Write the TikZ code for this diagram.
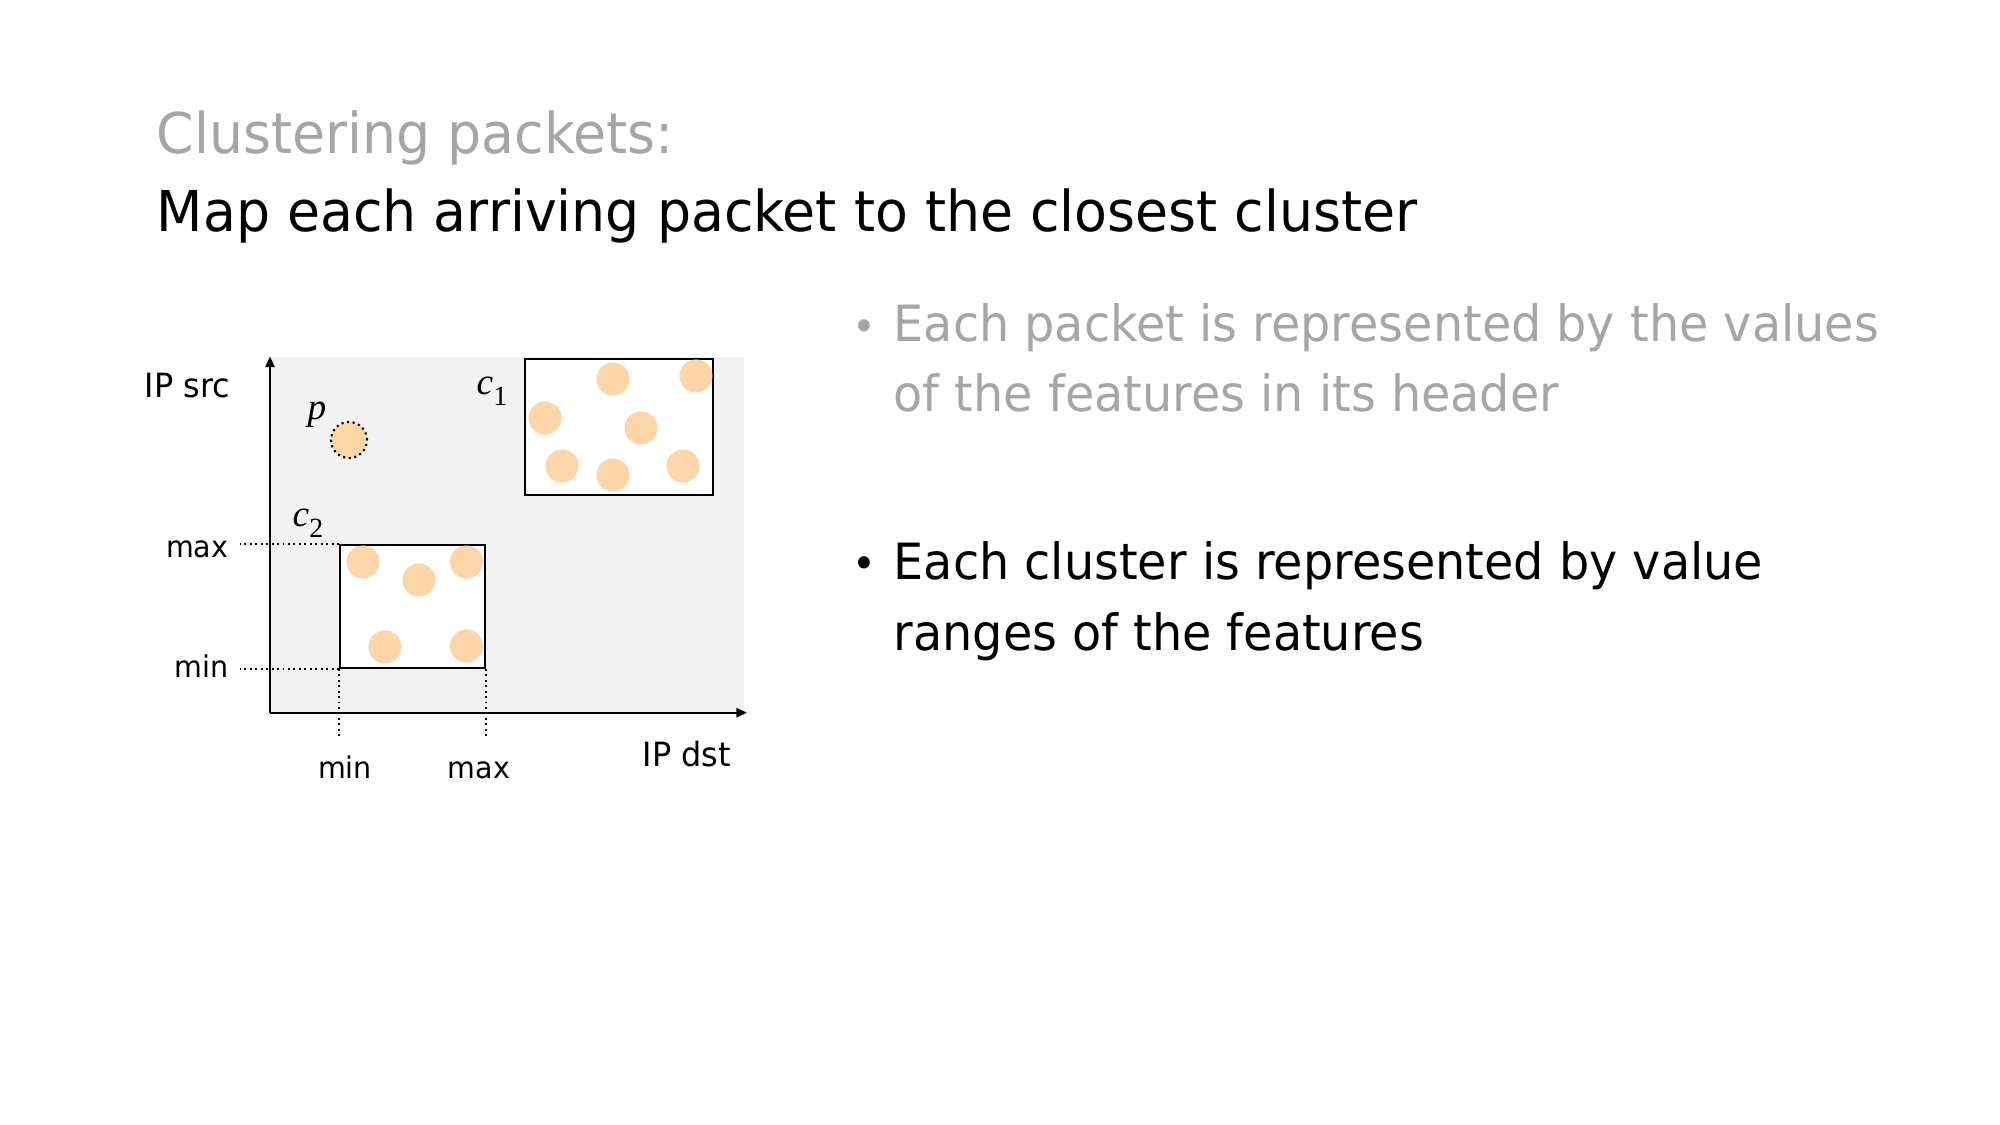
\documentclass[tikz,border=0pt]{standalone}
\usepackage{fontspec}
\setmainfont[FakeStretch=0.955]{DejaVu Sans}
\newfontfamily\lblserif{Liberation Serif}
\usetikzlibrary{arrows.meta}
\definecolor{slidegray}{HTML}{A6A6A6}
\definecolor{planegray}{HTML}{F2F2F2}
\definecolor{peach}{HTML}{FCD5A8}
\newcommand\clab[1]{{\itshape c}\raisebox{-3pt}{\fontsize{7.9}{8}\selectfont #1}}
\tikzset{
  pkt/.style={circle,fill=peach,inner sep=0pt,minimum size=0.33cm},
  clusterbox/.style={draw,line width=0.6pt,fill=white,inner sep=0pt},
  guide/.style={densely dotted,line width=0.55pt},
  axis/.style={line width=0.6pt,-{Triangle[length=3pt,width=2.6pt]}},
  ticklabel/.style={font=\fontsize{8.5}{10}\selectfont,inner sep=0pt},
  axislabel/.style={font=\fontsize{9.5}{11}\selectfont,inner sep=0pt},
  mathlbl/.style={font=\lblserif\fontsize{10.6}{12}\selectfont,inner sep=0pt},
  titleline/.style={font=\fontsize{16}{19}\selectfont,anchor=base west,inner sep=0pt},
  pointtext/.style={font=\fontsize{14.2}{20.1}\selectfont,anchor=base west,inner sep=0pt,align=left},
  pointdot/.style={font=\fontsize{12}{14}\selectfont,anchor=base,inner sep=0pt}
}
\begin{document}
\begin{tikzpicture}[x=0.01cm,y=-0.01cm]
\useasboundingbox (0,0) rectangle (2000,1125);
% titles
\node[titleline,slidegray] (title) at (156,154) {Clustering packets:};
\node[titleline] (subtitle) at (156,232) {Map each arriving packet to the closest cluster};
% feature space
\fill[planegray] (270,357) rectangle (744,712.7);
\coordinate (origin) at (270,712.7);
\coordinate (ytop) at (270,356.5);
\coordinate (xend) at (747,712.7);
\draw[axis] (origin) -- (ytop);
\draw[axis] (origin) -- (xend);
\node[axislabel,anchor=base west] (ipsrc) at (144,398) {IP src};
\node[axislabel,anchor=base west] (ipdst) at (642,767) {IP dst};
% clusters
\node[clusterbox,minimum width=1.875cm,minimum height=1.363cm] (c1box) at (619.2,427.2) {};
\node[clusterbox,minimum width=1.453cm,minimum height=1.225cm] (c2box) at (412.7,606.5) {};
\foreach \px/\py [count=\i] in {613/379,696/376,545/418,641/428,562/466,613/475,683/466}
  \node[pkt] (a\i) at (\px,\py) {};
\foreach \px/\py [count=\i] in {363/562,419/580,466.5/562,385/647,466.5/646}
  \node[pkt] (b\i) at (\px,\py) {};
\node[pkt,draw,densely dotted,line width=0.6pt,minimum size=0.36cm] (p) at (349,440) {};
\node[mathlbl,anchor=base west] (plbl) at (307,420) {\itshape p};
\node[mathlbl,anchor=base west] (c1lbl) at (476,395) {\clab{1}};
\node[mathlbl,anchor=base west] (c2lbl) at (292,527) {\clab{2}};
% ranges of c2
\draw[guide] (c2box.north west) -- ++(-99,0) coordinate (gmax);
\draw[guide] (c2box.south west) -- ++(-99,0) coordinate (gmin);
\draw[guide] (c2box.south west) -- ++(0,70) coordinate (gxmin);
\draw[guide] (c2box.south east) -- ++(0,70) coordinate (gxmax);
\node[ticklabel,anchor=base east] (ymax) at (229,558) {max};
\node[ticklabel,anchor=base east] (ymin) at (229,678) {min};
\node[ticklabel,anchor=base] (xmin) at (345,778) {min};
\node[ticklabel,anchor=base] (xmax) at (479,778) {max};
% points
\node[pointdot,slidegray] (dot1) at (864,341.7) {•};
\node[pointtext,slidegray] (pt1) at (893,411.7) {Each packet is represented by the values\\of the features in its header};
\node[pointdot] (dot2) at (864,578.3) {•};
\node[pointtext] (pt2) at (893,650) {Each cluster is represented by value\\ranges of the features};
\end{tikzpicture}
\end{document}
